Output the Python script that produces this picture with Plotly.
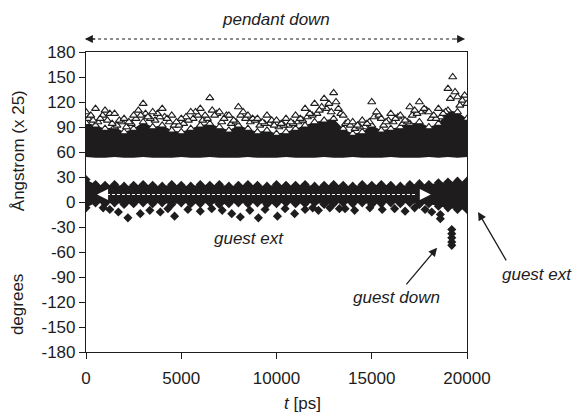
import plotly.graph_objects as go

# time bins (ps), 500 ps apart
t_bins = list(range(0, 20001, 500))
t_mid = list(range(250, 20000, 500))
t_q1 = list(range(125, 20000, 500))
t_q3 = list(range(375, 20000, 500))

# triangles: distance (Angstrom x 25)
tri_bot = [54, 53, 53, 54, 53, 53, 54, 53, 53, 53, 54, 53, 53, 54, 53, 53, 53, 54, 53, 53, 53,
           54, 53, 53, 53, 54, 53, 53, 54, 53, 53, 53, 54, 53, 53, 53, 54, 53, 54, 53, 54]
tri_top = [95, 92, 88, 90, 84, 88, 96, 90, 92, 86, 84, 88, 92, 94, 90, 86, 92, 88, 84, 86, 82,
           84, 88, 92, 96, 98, 100, 88, 82, 84, 92, 86, 88, 90, 94, 96, 90, 94, 110, 108, 100]
tri_peak = [108, 112, 110, 106, 100, 104, 118, 108, 112, 104, 100, 108, 112, 125, 108, 104, 114,
            104, 100, 104, 98, 100, 104, 112, 118, 124, 131, 104, 96, 98, 120, 100, 106, 104, 114,
            120, 108, 112, 136, 126, 118]
tri_mid = [104, 100, 106, 98, 96, 110, 102, 106, 100, 96, 102, 108, 104, 104, 100, 98, 108, 100,
           96, 98, 94, 96, 100, 106, 110, 118, 112, 96, 92, 94, 108, 96, 100, 98, 110, 112, 104,
           106, 150, 122]
tri_q1 = [100, 96, 98, 92, 90, 100, 106, 98, 102, 92, 94, 100, 98, 110, 96, 94, 104, 96, 92, 94,
          90, 92, 96, 102, 106, 112, 120, 94, 88, 90, 102, 92, 96, 94, 104, 108, 100, 102, 124, 116]
tri_q3 = [98, 104, 94, 96, 94, 104, 100, 102, 96, 92, 98, 104, 100, 106, 104, 96, 100, 98, 94, 92,
          92, 94, 98, 104, 114, 108, 106, 92, 90, 96, 104, 98, 102, 96, 106, 110, 100, 108, 132, 128]

# diamonds: angle (degrees)
dia_top = [27, 21, 20, 21, 19, 20, 21, 20, 19, 21, 20, 19, 21, 20, 21, 19, 20, 21, 20, 19, 21,
           20, 20, 21, 19, 20, 21, 20, 19, 21, 20, 21, 20, 19, 21, 22, 21, 23, 24, 25, 25]
dia_bot = [-7, -1, -2, -1, -3, -2, -1, -2, -1, -3, -1, -2, -2, -1, -3, -2, -1, -2, -1, -3, -2,
           -1, -2, -2, -1, -3, -2, -1, -2, -1, -3, -2, -1, -2, -1, -3, -2, -5, -7, -9, -9]
spike_t = [900, 1250, 1700, 2200, 2850, 3350, 3900, 4300, 4650, 5350, 6000, 6600, 7150, 7650,
           8100, 8600, 9050, 9400, 10050, 10450, 10950, 11500, 11900, 12200, 12800, 13300, 13600,
           14100, 14900, 15550, 16200, 16750, 17250, 17800, 18150, 18600, 18600, 19200, 19200,
           19200, 19200, 19200]
spike_v = [-7, -9, -12, -19, -14, -10, -12, -8, -17, -9, -11, -8, -10, -14, -18, -10, -19, -9,
           -17, -8, -14, -9, -7, -10, -7, -8, -8, -10, -7, -9, -8, -11, -7, -9, -12, -15, -20,
           -33, -38, -43, -48, -52]

x_ticks = [0, 5000, 10000, 15000, 20000]
y_ticks = list(range(-180, 181, 30))

INK = '#1e1c1c'
FONT = 'Liberation Sans, Arial, sans-serif'

fig = go.Figure()

# dense triangle band
fig.add_trace(go.Scatter(x=t_bins, y=tri_bot, mode='lines', line=dict(width=0), showlegend=False))
fig.add_trace(go.Scatter(x=t_bins, y=tri_top, mode='lines', line=dict(width=0), fill='tonexty',
                         fillcolor=INK, showlegend=False))
tri_marker = dict(symbol='triangle-up', size=7, color='white', line=dict(color=INK, width=1.1))
for xs, ys in [(t_bins, tri_top), (t_q1, tri_q1), (t_q3, tri_q3), (t_mid, tri_mid),
               (t_bins, tri_peak)]:
    fig.add_trace(go.Scatter(x=xs, y=ys, mode='markers', marker=tri_marker, showlegend=False))

# dense diamond band
fig.add_trace(go.Scatter(x=t_bins, y=dia_bot, mode='lines', line=dict(width=0), showlegend=False))
fig.add_trace(go.Scatter(x=t_bins, y=dia_top, mode='lines', line=dict(width=0), fill='tonexty',
                         fillcolor=INK, showlegend=False))
dia_marker = dict(symbol='diamond', size=7, color=INK, line=dict(width=0))
for xs, ys in [(t_bins, dia_top), (t_bins, dia_bot), (spike_t, spike_v)]:
    fig.add_trace(go.Scatter(x=xs, y=ys, mode='markers', marker=dia_marker, showlegend=False))

fig.update_xaxes(range=[0, 20000], tickvals=x_ticks, ticktext=[str(v) for v in x_ticks],
                 ticks='outside', ticklen=6, tickcolor=INK, showline=True, linecolor=INK,
                 linewidth=1.2, mirror=True, showgrid=False, zeroline=False,
                 ticklabelstandoff=4)
fig.update_yaxes(range=[-180, 180], tickvals=y_ticks, ticktext=[str(v) for v in y_ticks],
                 ticks='outside', ticklen=6, tickcolor=INK, showline=True, linecolor=INK,
                 linewidth=1.2, mirror=True, showgrid=False, zeroline=False)

ital = dict(family=FONT, size=17, color=INK)
plain = dict(family=FONT, size=17, color=INK)
arrow = dict(text='', showarrow=True, arrowhead=2, arrowsize=1.3, arrowwidth=1.3, arrowcolor=INK)
anns = [
    dict(text='<i>pendant down</i>', xref='paper', yref='paper', x=0.499, y=1.107,
         showarrow=False, font=ital),
    dict(text='<i>guest ext</i>', x=8560, y=-44, showarrow=False, font=ital),
    dict(text='<i>guest down</i>', x=16275, y=-114, showarrow=False, font=ital),
    dict(text='<i>guest ext</i>', xref='paper', yref='paper', x=1.184, y=0.26,
         showarrow=False, font=ital),
    # arrows
    dict(arrow, x=18430, y=-55, ax=-32, ay=38),
    dict(arrow, xref='paper', yref='paper', x=1.029, y=0.467, ax=29, ay=50),
    # top double arrow heads
    dict(text='', xref='paper', yref='paper', x=-0.003, y=1.0433, ax=12, ay=0, showarrow=True,
         arrowhead=2, arrowsize=1.6, arrowwidth=1, arrowcolor=INK),
    dict(text='', xref='paper', yref='paper', x=0.995, y=1.0433, ax=-12, ay=0, showarrow=True,
         arrowhead=2, arrowsize=1.6, arrowwidth=1, arrowcolor=INK),
    # white arrow heads in the diamond band
    dict(text='', x=580, y=9, ax=12, ay=0, showarrow=True, arrowhead=2, arrowsize=2.2,
         arrowwidth=1, arrowcolor='white'),
    dict(text='', x=18100, y=9, ax=-12, ay=0, showarrow=True, arrowhead=2, arrowsize=2.2,
         arrowwidth=1, arrowcolor='white'),
    # axis titles
    dict(text='Ångstrom (x 25)', xref='paper', yref='paper', x=-0.178, y=0.67, textangle=-90,
         showarrow=False, font=plain),
    dict(text='degrees', xref='paper', yref='paper', x=-0.178, y=0.157, textangle=-90,
         showarrow=False, font=plain),
    dict(text='<i>t</i> [ps]', xref='paper', yref='paper', x=0.567, y=-0.172,
         showarrow=False, font=plain),
]
for a in anns:
    if not a.get('showarrow', True):
        a['xanchor'] = 'center'
        a['yanchor'] = 'middle'

fig.update_layout(
    width=581, height=416,
    margin=dict(l=78, r=122, t=44, b=72),
    paper_bgcolor='white', plot_bgcolor='white',
    font=dict(family=FONT, size=17, color=INK),
    annotations=anns,
    shapes=[
        dict(type='line', xref='paper', yref='paper', x0=0.0, x1=0.99, y0=1.0433, y1=1.0433,
             line=dict(color=INK, width=1, dash='dot')),
        dict(type='line', x0=1100, x1=17300, y0=9, y1=9,
             line=dict(color='white', width=1, dash='3px,2px')),
    ],
)

fig.write_html("out.html")
